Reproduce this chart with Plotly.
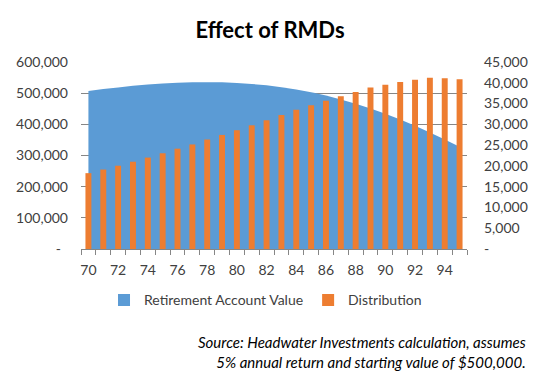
import plotly.graph_objects as go

ages = list(range(70, 96))
account_value = [506750, 512970, 518580, 523510, 527690, 531030, 533450, 534960, 535350,
                 534670, 532810, 529680, 525190, 519230, 511690, 502700, 492180, 480060,
                 466270, 450720, 433720, 415250, 395300, 373890, 351500, 328200]
distribution = [18250, 19120, 20040, 21000, 22000, 23040, 24140, 25160, 26350, 27450,
                28590, 29770, 30980, 32220, 33500, 34570, 35650, 36730, 37800, 38860,
                39540, 40160, 40710, 41180, 41090, 40870]

left_ticks = [0, 100000, 200000, 300000, 400000, 500000, 600000]
left_labels = ["-\u00a0\u00a0", "100,000", "200,000", "300,000", "400,000", "500,000", "600,000"]
right_ticks = [0, 5000, 10000, 15000, 20000, 25000, 30000, 35000, 40000, 45000]
right_labels = ["-", "5,000", "10,000", "15,000", "20,000", "25,000", "30,000", "35,000", "40,000", "45,000"]
x_label_vals = list(range(70, 96, 2))

FONT = "Lato"
TXT = "#404040"
BLUE = "#5B9BD5"
ORANGE = "#ED7D31"

fig = go.Figure()
fig.add_trace(go.Scatter(
    x=ages, y=account_value, name="Retirement Account Value",
    mode="none", fill="tozeroy", fillcolor=BLUE, yaxis="y", showlegend=False))
# legend-only entry so the legend shows a square swatch like the original
fig.add_trace(go.Bar(
    x=[None], y=[None], name="Retirement Account Value",
    marker=dict(color=BLUE, line=dict(width=0)), yaxis="y", showlegend=True))
fig.add_trace(go.Bar(
    x=ages, y=distribution, name="Distribution",
    marker=dict(color=ORANGE, line=dict(width=0)), width=0.4, yaxis="y2"))

fig.update_layout(
    width=540, height=381,
    margin=dict(l=81, r=73, t=62, b=132),
    paper_bgcolor="white", plot_bgcolor="white",
    font=dict(family=FONT, size=14, color=TXT),
    title=dict(text="<b>Effect of RMDs</b>", x=0.5, xanchor="center",
               y=1 - 30 / 381, yanchor="middle",
               font=dict(family=FONT, size=22, color="#000000")),
    xaxis=dict(range=[69.5, 95.5], tickvals=x_label_vals, ticks="",
               ticklabelstandoff=8,
               showgrid=False, showline=True, linecolor="#868686", linewidth=1,
               zeroline=False,
               minor=dict(tick0=69.5, dtick=1, ticks="outside", ticklen=5,
                          tickcolor="#868686", tickwidth=1, showgrid=False)),
    yaxis=dict(range=[0, 600000], tickvals=left_ticks, ticktext=left_labels,
               showgrid=True, gridcolor="#868686", gridwidth=1,
               ticks="", showline=False, zeroline=False, ticklabelstandoff=12),
    yaxis2=dict(range=[0, 45000], tickvals=right_ticks, ticktext=right_labels,
                overlaying="y", side="right", showgrid=False, ticks="",
                showline=False, zeroline=False, ticklabelstandoff=16),
    legend=dict(orientation="h", x=0.478, xanchor="center", y=-0.275, yanchor="middle",
                font=dict(size=14, color=TXT), bgcolor="rgba(0,0,0,0)",
                itemclick=False, traceorder="normal", itemwidth=30),
    showlegend=True,
    annotations=[dict(
        text="<i>Source: Headwater Investments calculation, assumes<br>5% annual return and starting value of $500,000.</i>",
        xref="paper", yref="paper", x=(528 - 81) / 386, y=-0.553,
        xanchor="right", yanchor="middle", align="right", showarrow=False,
        font=dict(family=FONT, size=15, color="#000000"))],
)

fig.write_html("out.html")
